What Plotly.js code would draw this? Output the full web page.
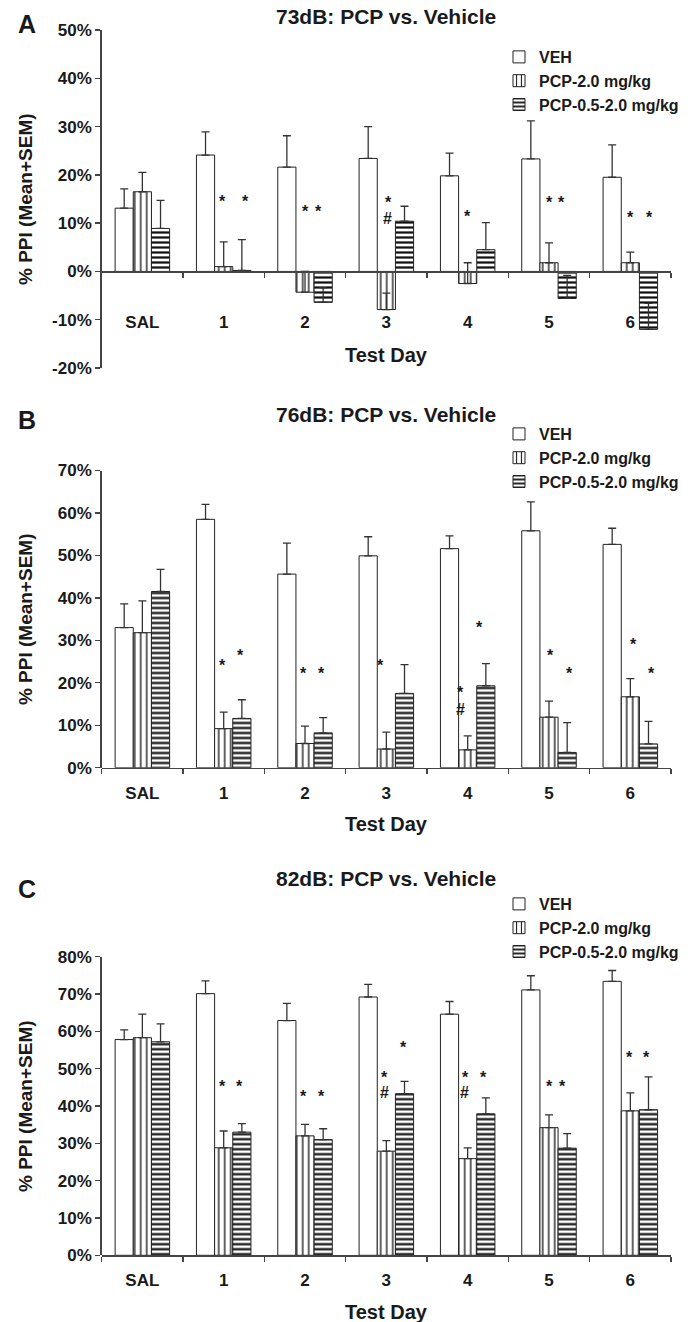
<!DOCTYPE html>
<html><head><meta charset="utf-8">
<script src="https://cdn.plot.ly/plotly-3.0.1.min.js"></script>
<style>html,body{margin:0;padding:0;background:#fff;} #chart{width:692px;height:1322px;}</style>
</head><body><div id="chart"></div>
<script>
// ---------- DATA ----------
const categories = ['SAL', '1', '2', '3', '4', '5', '6'];
const seriesNames = ['VEH', 'PCP-2.0 mg/kg', 'PCP-0.5-2.0 mg/kg'];
const panelTitles = ['73dB: PCP vs. Vehicle', '76dB: PCP vs. Vehicle', '82dB: PCP vs. Vehicle'];
const panelLetters = ['A', 'B', 'C'];
const xTitle = 'Test Day';
const yTitle = '% PPI (Mean+SEM)';

// Panel A (73 dB): means and SEM (%)
const a_veh       = [13.1, 24.1, 21.6, 23.4, 19.8, 23.3, 19.5];
const a_veh_sem   = [4.0, 4.8, 6.5, 6.6, 4.7, 7.9, 6.7];
const a_pcp2      = [16.5, 1.0, -4.3, -7.9, -2.5, 1.8, 1.8];
const a_pcp2_sem  = [4.0, 5.1, 4.3, 3.4, 4.3, 4.1, 2.2];
const a_pcp05     = [8.9, 0.2, -6.4, 10.4, 4.5, -5.6, -12.0];
const a_pcp05_sem = [5.8, 6.4, 3.0, 3.1, 5.6, 4.8, 5.4];

// Panel B (76 dB)
const b_veh       = [33.0, 58.5, 45.6, 49.9, 51.6, 55.8, 52.6];
const b_veh_sem   = [5.6, 3.5, 7.3, 4.5, 3.0, 6.8, 3.8];
const b_pcp2      = [31.8, 9.2, 5.7, 4.4, 4.2, 11.9, 16.7];
const b_pcp2_sem  = [7.5, 3.9, 4.1, 4.0, 3.3, 3.8, 4.3];
const b_pcp05     = [41.5, 11.6, 8.2, 17.5, 19.3, 3.6, 5.6];
const b_pcp05_sem = [5.2, 4.4, 3.6, 6.8, 5.2, 7.0, 5.3];

// Panel C (82 dB)
const c_veh       = [57.8, 70.1, 62.9, 69.2, 64.6, 71.1, 73.4];
const c_veh_sem   = [2.6, 3.4, 4.6, 3.4, 3.4, 3.8, 2.9];
const c_pcp2      = [58.3, 28.8, 32.0, 27.9, 25.9, 34.2, 38.7];
const c_pcp2_sem  = [6.3, 4.5, 3.1, 2.8, 2.9, 3.4, 4.8];
const c_pcp05     = [57.2, 33.0, 31.0, 43.3, 37.9, 28.7, 39.0];
const c_pcp05_sem = [4.8, 2.3, 2.9, 3.3, 4.3, 3.9, 8.8];

// Significance marks: [day index, mark, level (%)]
const sigA = [[1,'*',15.3],[1,'*',15.3],[2,'*',13.2],[2,'*',13.2],[3,'*',15.1],[3,'#',11.1],
              [4,'*',12.3],[5,'*',15.1],[5,'*',15.1],[6,'*',12.0],[6,'*',12.0]];
const sigB = [[1,'*',24.9],[1,'*',27.3],[2,'*',23.2],[2,'*',23.2],[3,'*',25.0],
              [4,'*',18.7],[4,'#',14.0],[4,'*',34.0],[5,'*',27.3],[5,'*',23.2],[6,'*',29.9],[6,'*',23.2]];
const sigC = [[1,'*',46.3],[1,'*',46.3],[2,'*',43.6],[2,'*',43.6],[3,'*',48.7],[3,'#',43.8],[3,'*',56.7],
              [4,'*',48.7],[4,'#',43.8],[4,'*',48.7],[5,'*',46.4],[5,'*',46.4],[6,'*',54.1],[6,'*',54.1]];

// ---------- LAYOUT / STYLE ----------
const W = 692, H = 1322;
const FONT = '"Liberation Sans", Arial, Helvetica, sans-serif';
const TXT = '#1a1a1a';
const AX = '#444';
const fx = px => px / W;
const fy = px => 1 - px / H;
const plotLeft = 101.7, plotRight = 671;

// horizontal offset of each mark (in category units), in the order of the sig arrays
const sigOffA = [-0.02,0.27,0.0,0.17,0.03,0.01,0.0,0.01,0.155,0.0,0.23];
const sigOffB = [-0.01,0.21,-0.02,0.2,-0.07,-0.085,-0.09,0.14,0.02,0.25,0.04,0.26];
const sigOffC = [-0.02,0.2,-0.02,0.2,-0.02,-0.02,0.21,-0.03,-0.04,0.2,0.01,0.17,-0.01,0.2];

const panels = [
  {range:[-20,50], top:30, bottom:368, letterY:24, titleY:16, legendTop:40, labelStandoff:35, xTitleY:355,
   means:[a_veh,a_pcp2,a_pcp05], sems:[a_veh_sem,a_pcp2_sem,a_pcp05_sem], sig:sigA, off:sigOffA},
  {range:[0,70], top:470.5, bottom:767.7, letterY:420, titleY:415, legendTop:417, labelStandoff:9, xTitleY:824,
   means:[b_veh,b_pcp2,b_pcp05], sems:[b_veh_sem,b_pcp2_sem,b_pcp05_sem], sig:sigB, off:sigOffB},
  {range:[0,80], top:956.7, bottom:1255.3, letterY:889, titleY:878, legendTop:887, labelStandoff:9, xTitleY:1312,
   means:[c_veh,c_pcp2,c_pcp05], sems:[c_veh_sem,c_pcp2_sem,c_pcp05_sem], sig:sigC, off:sigOffC}
];

const patterns = [
  {shape:'', bgcolor:'white'},
  {shape:'|', size:6, solidity:0.22, fgcolor:'#111', bgcolor:'white'},
  {shape:'-', size:5, solidity:0.45, fgcolor:'#111', bgcolor:'white'}
];

const traces = [];
const layout = {
  width: W, height: H,
  margin: {l:0, r:0, t:0, b:0},
  paper_bgcolor: 'white', plot_bgcolor: 'white',
  barmode: 'group', bargap: 0.33, bargroupgap: 0,
  font: {family: FONT, color: TXT},
  annotations: [], showlegend: true
};

const tickFont = {family: FONT, size: 17, weight: 'bold', color: TXT};

panels.forEach((p, i) => {
  const sfx = i === 0 ? '' : String(i + 1);
  const xa = 'x' + sfx, ya = 'y' + sfx, lg = 'legend' + sfx;
  const d0 = fy(p.bottom), d1 = fy(p.top);
  const zeroPos = d0 + (0 - p.range[0]) / (p.range[1] - p.range[0]) * (d1 - d0);
  const yVals = [];
  for (let v = p.range[0]; v <= p.range[1]; v += 10) yVals.push(v);

  seriesNames.forEach((name, s) => {
    traces.push({
      type: 'bar', x: categories, y: p.means[s], name: name,
      xaxis: xa, yaxis: ya, legend: lg,
      marker: {color: 'white', line: {color: '#222', width: 1}, pattern: patterns[s]},
      error_y: {type: 'data', symmetric: false, array: p.sems[s],
                arrayminus: p.sems[s].map(() => 0), color: '#333', thickness: 1.3, width: 4},
      hoverinfo: 'skip'
    });
  });

  layout['xaxis' + sfx] = {
    domain: [fx(plotLeft), fx(plotRight)], type: 'category',
    categoryorder: 'array', categoryarray: categories, range: [-0.5, categories.length - 0.5],
    anchor: 'free', position: zeroPos,
    showline: true, linecolor: AX, linewidth: 1.5,
    ticks: 'outside', tickson: 'boundaries', ticklen: 5, tickwidth: 1.3, tickcolor: AX,
    tickfont: tickFont, ticklabelstandoff: p.labelStandoff,
    showgrid: false, zeroline: false, fixedrange: true
  };
  layout['yaxis' + sfx] = {
    domain: [d0, d1], range: p.range, anchor: xa,
    tickmode: 'array', tickvals: yVals, ticktext: yVals.map(v => v + '%'),
    showline: true, linecolor: AX, linewidth: 1.5,
    ticks: 'outside', ticklen: 5, tickwidth: 1.3, tickcolor: AX,
    tickfont: tickFont, showgrid: false, zeroline: false, fixedrange: true
  };
  layout[lg] = {
    x: fx(499), xanchor: 'left', y: fy(p.legendTop), yanchor: 'top',
    bgcolor: 'rgba(0,0,0,0)', borderwidth: 0, traceorder: 'normal',
    font: {family: FONT, size: 16, weight: 'bold', color: TXT}
  };

  const A = layout.annotations;
  A.push({xref:'paper', yref:'paper', x: fx(27), y: fy(p.letterY), text: panelLetters[i],
          showarrow:false, xanchor:'center', yanchor:'middle',
          font:{family:FONT, size:25, weight:'bold', color:TXT}});
  A.push({xref:'paper', yref:'paper', x: fx((plotLeft + plotRight) / 2), y: fy(p.titleY), text: panelTitles[i],
          showarrow:false, xanchor:'center', yanchor:'middle',
          font:{family:FONT, size:21, weight:'bold', color:TXT}});
  A.push({xref:'paper', yref:'paper', x: fx(25), y: fy((p.top + p.bottom) / 2), text: yTitle,
          textangle:-90, showarrow:false, xanchor:'center', yanchor:'middle',
          font:{family:FONT, size:19, weight:'bold', color:TXT}});
  A.push({xref:'paper', yref:'paper', x: fx((plotLeft + plotRight) / 2), y: fy(p.xTitleY), text: xTitle,
          showarrow:false, xanchor:'center', yanchor:'middle',
          font:{family:FONT, size:20, weight:'bold', color:TXT}});
  p.sig.forEach((m, k) => {
    A.push({xref: xa, yref: ya, x: m[0] + p.off[k], y: m[2], text: m[1],
            showarrow:false, xanchor:'center', yanchor:'middle', yshift: m[1] === '*' ? -4 : -1,
            font:{family:FONT, size:16, weight:'bold', color:TXT}});
  });
});

Plotly.newPlot('chart', traces, layout, {staticPlot: true, displayModeBar: false});
</script>
</body></html>
